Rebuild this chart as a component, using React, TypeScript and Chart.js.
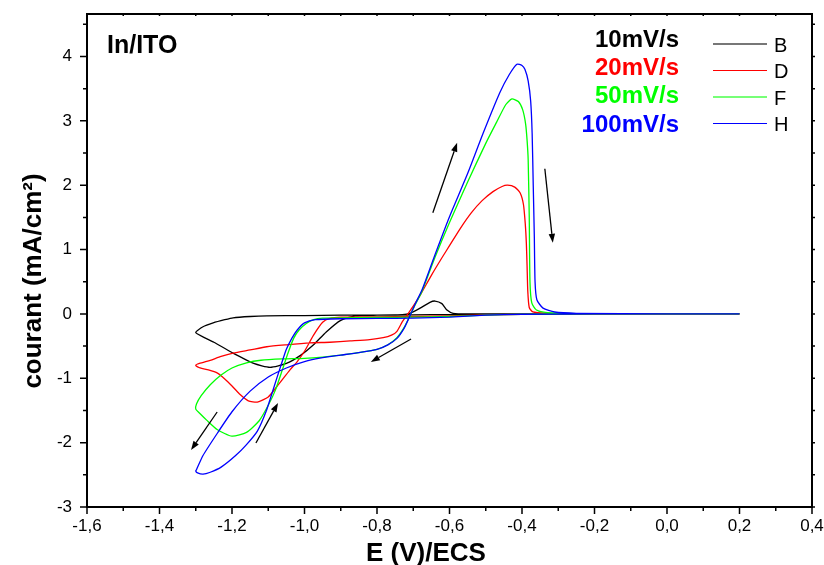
import React, { useEffect, useRef } from 'react';
import { Chart, registerables } from 'chart.js';
Chart.register(...registerables);

// ---- data (E in V vs ECS, current in mA/cm2), path order: 0.2 -> -1.3 -> 0.2 ----
const rateLabels = ['10mV/s', '20mV/s', '50mV/s', '100mV/s'];
const curveNames = ['B', 'D', 'F', 'H'];
const curveColors = ['#000000', '#ff0000', '#00ff00', '#0000ff'];
const legendLineColors = ['#777777', '#ff0000', '#77ff77', '#0000ff'];

const potB = [0.2, 0.0, -0.2, -0.4, -0.6, -0.7, -0.8, -0.86, -0.9, -0.94, -0.975, -1.01, -1.05, -1.095, -1.14, -1.2, -1.25, -1.3,
  -1.28, -1.252, -1.22, -1.197, -1.15, -1.104, -1.0, -0.9, -0.8, -0.73, -0.709, -0.681, -0.654, -0.64, -0.621, -0.607, -0.59, -0.55, -0.3, 0.0, 0.2];
const curB = [0, 0, 0, -0.005, -0.01, -0.015, -0.02, -0.03, -0.1, -0.28, -0.48, -0.64, -0.77, -0.83, -0.77, -0.6, -0.44, -0.29,
  -0.2, -0.14, -0.09, -0.06, -0.04, -0.03, -0.025, -0.02, -0.02, -0.01, 0.01, 0.09, 0.18, 0.2, 0.16, 0.06, 0.01, 0, 0, 0, 0];

const potD = [0.2, 0.0, -0.2, -0.4, -0.5, -0.6, -0.7, -0.8, -0.9, -0.93, -0.95, -0.975, -1.0, -1.02, -1.04, -1.075, -1.1, -1.13, -1.155, -1.18, -1.2, -1.22, -1.24, -1.265, -1.288, -1.3,
  -1.29, -1.26, -1.23, -1.197, -1.15, -1.104, -1.05, -0.985, -0.93, -0.874, -0.82, -0.783, -0.76, -0.745, -0.73, -0.715, -0.7, -0.68, -0.65, -0.62, -0.6, -0.57, -0.54, -0.51, -0.48, -0.455, -0.44, -0.42, -0.405, -0.396, -0.391, -0.388, -0.386, -0.384, -0.38, -0.37, -0.33, -0.25, 0.0, 0.2];
const curD = [0, 0, 0, -0.005, -0.015, -0.03, -0.04, -0.045, -0.05, -0.07, -0.13, -0.33, -0.58, -0.74, -0.87, -1.12, -1.29, -1.37, -1.35, -1.24, -1.12, -1.01, -0.92, -0.87, -0.84, -0.8,
  -0.77, -0.72, -0.66, -0.61, -0.56, -0.51, -0.48, -0.45, -0.44, -0.42, -0.4, -0.37, -0.33, -0.27, -0.12, 0.0, 0.12, 0.3, 0.6, 0.88, 1.06, 1.33, 1.57, 1.76, 1.9, 1.98, 2.0, 1.97, 1.88, 1.7, 1.4, 1.1, 0.75, 0.35, 0.1, 0.03, 0.01, 0, 0, 0];

const potF = [0.2, 0.0, -0.2, -0.4, -0.5, -0.6, -0.7, -0.8, -0.9, -0.95, -0.975, -0.995, -1.015, -1.03, -1.045, -1.06, -1.08, -1.1, -1.125, -1.16, -1.2, -1.24, -1.27, -1.29, -1.3,
  -1.298, -1.285, -1.26, -1.23, -1.2, -1.16, -1.12, -1.06, -1.0, -0.95, -0.9, -0.85, -0.8, -0.77, -0.745, -0.725, -0.71, -0.695, -0.676, -0.64, -0.6, -0.55, -0.5, -0.47, -0.445, -0.428, -0.41, -0.398, -0.39, -0.386, -0.383, -0.38, -0.378, -0.373, -0.36, -0.33, -0.25, 0.0, 0.2];
const curF = [0, 0, 0, -0.005, -0.02, -0.04, -0.05, -0.055, -0.06, -0.065, -0.09, -0.15, -0.25, -0.38, -0.6, -0.85, -1.18, -1.42, -1.66, -1.84, -1.9, -1.8, -1.65, -1.54, -1.48,
  -1.4, -1.27, -1.1, -0.95, -0.84, -0.76, -0.72, -0.7, -0.69, -0.67, -0.64, -0.6, -0.55, -0.48, -0.37, -0.21, -0.04, 0.14, 0.35, 0.88, 1.42, 2.05, 2.65, 2.98, 3.25, 3.34, 3.3, 3.17, 2.95, 2.7, 2.4, 1.5, 0.5, 0.17, 0.06, 0.02, 0.005, 0, 0];

const potH = [0.2, 0.0, -0.2, -0.4, -0.5, -0.6, -0.7, -0.8, -0.9, -0.97, -1.0, -1.02, -1.035, -1.05, -1.065, -1.085, -1.105, -1.13, -1.16, -1.19, -1.23, -1.26, -1.28, -1.295, -1.3,
  -1.298, -1.28, -1.24, -1.2, -1.15, -1.1, -1.05, -1.0, -0.95, -0.9, -0.85, -0.8, -0.77, -0.745, -0.725, -0.71, -0.695, -0.676, -0.64, -0.6, -0.55, -0.507, -0.461, -0.435, -0.414, -0.4, -0.392, -0.383, -0.376, -0.372, -0.369, -0.366, -0.364, -0.359, -0.342, -0.31, -0.25, 0.0, 0.2];
const curH = [0, 0, 0, -0.005, -0.02, -0.05, -0.065, -0.07, -0.075, -0.09, -0.14, -0.25, -0.38, -0.55, -0.8, -1.15, -1.5, -1.82, -2.03, -2.2, -2.38, -2.46, -2.49, -2.47, -2.44,
  -2.42, -2.2, -1.85, -1.52, -1.2, -0.98, -0.84, -0.74, -0.68, -0.64, -0.6, -0.55, -0.48, -0.38, -0.22, -0.04, 0.15, 0.37, 0.92, 1.51, 2.18, 2.81, 3.44, 3.72, 3.88, 3.86, 3.8, 3.62, 3.3, 2.8, 2.0, 1.2, 0.5, 0.22, 0.09, 0.03, 0.01, 0, 0];

const potentials = [potB, potD, potF, potH];
const currents = [curB, curD, curF, curH];

// scan-direction arrows (data coordinates)
const arrowTailE = [-0.646, -0.337, -0.706, -1.241, -1.134];
const arrowTailI = [1.571, 2.255, -0.389, -1.524, -2.006];
const arrowHeadE = [-0.579, -0.315, -0.817, -1.313, -1.073];
const arrowHeadI = [2.659, 1.104, -0.747, -2.115, -1.384];

const xMin = -1.6, xMax = 0.4, yMin = -3, yMax = 4.66;
const xTitle = 'E (V)/ECS';
const yTitle = 'courant (mA/cm²)';
const panelLabel = 'In/ITO';

const FONT = "Arial, 'Liberation Sans', sans-serif";

const fmtX = (v: number) => {
  const s = (Math.round(v * 10) / 10).toFixed(1).replace('.', ',');
  return s === '-0,0' ? '0,0' : s;
};

const decorPlugin = {
  id: 'decor',
  afterDraw(chart: any) {
    const { ctx, chartArea: a } = chart;
    const x = chart.scales.x;
    const y = chart.scales.y;
    ctx.save();
    // frame
    ctx.strokeStyle = '#000';
    ctx.lineWidth = 2;
    ctx.strokeRect(a.left, a.top, a.right - a.left, a.bottom - a.top);
    // ticks
    ctx.lineWidth = 1.5;
    ctx.beginPath();
    for (let i = 0; i <= 20; i++) {
      const px = x.getPixelForValue(xMin + i * 0.1);
      const len = i % 2 === 0 ? 7 : 4;
      ctx.moveTo(px, a.bottom);
      ctx.lineTo(px, a.bottom + len);
      ctx.moveTo(px, a.top);
      ctx.lineTo(px, a.top + 2);
    }
    for (let i = 0; i <= 15; i++) {
      const py = y.getPixelForValue(yMin + i * 0.5);
      const len = i % 2 === 0 ? 7 : 4;
      ctx.moveTo(a.left, py);
      ctx.lineTo(a.left - len, py);
      ctx.moveTo(a.right, py);
      ctx.lineTo(a.right + 3, py);
    }
    ctx.stroke();

    // arrows
    ctx.strokeStyle = '#000';
    ctx.fillStyle = '#000';
    ctx.lineWidth = 1.3;
    for (let i = 0; i < arrowTailE.length; i++) {
      const x0 = x.getPixelForValue(arrowTailE[i]);
      const y0 = y.getPixelForValue(arrowTailI[i]);
      const x1 = x.getPixelForValue(arrowHeadE[i]);
      const y1 = y.getPixelForValue(arrowHeadI[i]);
      const ang = Math.atan2(y1 - y0, x1 - x0);
      const hl = 9, hw = 3.2;
      const bx = x1 - hl * Math.cos(ang), by = y1 - hl * Math.sin(ang);
      ctx.beginPath();
      ctx.moveTo(x0, y0);
      ctx.lineTo(bx, by);
      ctx.stroke();
      ctx.beginPath();
      ctx.moveTo(x1, y1);
      ctx.lineTo(bx + hw * Math.sin(ang), by - hw * Math.cos(ang));
      ctx.lineTo(bx - hw * Math.sin(ang), by + hw * Math.cos(ang));
      ctx.closePath();
      ctx.fill();
    }

    // panel label
    ctx.fillStyle = '#000';
    ctx.textBaseline = 'alphabetic';
    ctx.textAlign = 'left';
    ctx.font = `bold 25px ${FONT}`;
    ctx.fillText(panelLabel, 107, 53);

    // axis titles
    ctx.font = `bold 26px ${FONT}`;
    ctx.textAlign = 'center';
    ctx.fillText(xTitle, 426, 561);
    ctx.save();
    ctx.translate(41, 281);
    ctx.rotate(-Math.PI / 2);
    ctx.fillText(yTitle, 0, 0);
    ctx.restore();

    // legend
    const baseY = [47, 75, 103, 132];
    const lineY = [44, 70.5, 97, 123.5];
    for (let i = 0; i < rateLabels.length; i++) {
      ctx.font = `bold 24px ${FONT}`;
      ctx.textAlign = 'right';
      ctx.fillStyle = curveColors[i];
      ctx.fillText(rateLabels[i], 679, baseY[i]);
      ctx.strokeStyle = legendLineColors[i];
      ctx.lineWidth = i === 0 || i === 2 ? 2 : 1.2;
      ctx.beginPath();
      ctx.moveTo(713, lineY[i]);
      ctx.lineTo(767, lineY[i]);
      ctx.stroke();
      ctx.font = `20px ${FONT}`;
      ctx.textAlign = 'left';
      ctx.fillStyle = '#000';
      ctx.fillText(curveNames[i], 774, lineY[i] + 7.5);
    }
    ctx.restore();
  },
};

export default function App() {
  const ref = useRef<HTMLCanvasElement>(null);
  useEffect(() => {
    const datasets = potentials.map((pot, k) => ({
      label: curveNames[k],
      data: pot.map((e, i) => ({ x: e, y: currents[k][i] })),
      showLine: true,
      borderColor: curveColors[k],
      backgroundColor: curveColors[k],
      borderWidth: 1.3,
      pointRadius: 0,
      tension: 0.2,
      fill: false,
      order: 3 - k,
    }));
    const chart = new Chart(ref.current as HTMLCanvasElement, {
      type: 'scatter',
      data: { datasets },
      options: {
        animation: false,
        responsive: false,
        layout: { padding: { top: 14, right: 12, left: 0, bottom: 0 } },
        plugins: { legend: { display: false }, tooltip: { enabled: false } },
        scales: {
          x: {
            type: 'linear',
            min: xMin,
            max: xMax,
            grid: { display: false, drawTicks: false },
            border: { display: false },
            afterFit: (s: any) => { s.height = 58; s.paddingLeft = 0; s.paddingRight = 0; },
            ticks: {
              stepSize: 0.2,
              autoSkip: false,
              maxRotation: 0,
              padding: 9,
              color: '#000',
              font: { family: FONT, size: 17 },
              callback: (v: any) => fmtX(Number(v)),
            },
          },
          y: {
            type: 'linear',
            min: yMin,
            max: yMax,
            grid: { display: false, drawTicks: false },
            border: { display: false },
            afterFit: (s: any) => { s.width = 87; s.paddingTop = 0; s.paddingBottom = 0; },
            ticks: {
              stepSize: 1,
              includeBounds: false,
              padding: 15,
              color: '#000',
              font: { family: FONT, size: 17 },
              callback: (v: any) => {
                const n = Number(v);
                return Math.abs(n - Math.round(n)) < 1e-6 ? String(Math.round(n)) : '';
              },
            },
          },
        },
      },
      plugins: [decorPlugin],
    } as any);
    return () => chart.destroy();
  }, []);
  return (
    <div style={{ position: 'fixed', left: 0, top: 0, width: 824, height: 565, background: '#fff' }}>
      <canvas ref={ref} width={824} height={565} style={{ display: 'block', width: 824, height: 565 }} />
    </div>
  );
}
